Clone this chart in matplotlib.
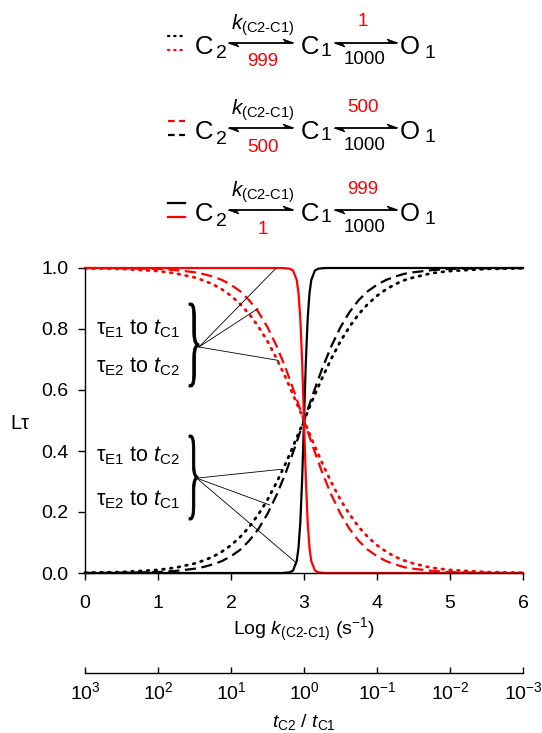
import matplotlib
matplotlib.use('Agg')
import matplotlib.pyplot as plt
from matplotlib.textpath import TextPath
from matplotlib.font_manager import FontProperties
from matplotlib.patches import PathPatch, Polygon
from matplotlib.transforms import Affine2D

plt.rcParams['font.family'] = ['Liberation Sans', 'DejaVu Sans']
plt.rcParams['mathtext.fontset'] = 'custom'
plt.rcParams['mathtext.rm'] = 'Liberation Sans'
plt.rcParams['mathtext.it'] = 'Liberation Sans:italic'
plt.rcParams['mathtext.bf'] = 'Liberation Sans:bold'

RED = '#ff0000'

# Log k(C2-C1) grid for the dotted / dashed curves
log_k = [0, 0.5, 1, 1.25, 1.5, 1.625, 1.75, 1.875, 2, 2.125, 2.25, 2.375, 2.5,
         2.625, 2.75, 2.875, 3, 3.125, 3.25, 3.375, 3.5, 3.625, 3.75, 3.875,
         4, 4.125, 4.25, 4.375, 4.5, 4.75, 5, 5.5, 6]
black_dotted = [0.001, 0.003, 0.010, 0.018, 0.031, 0.041, 0.053, 0.070, 0.091,
                0.118, 0.151, 0.192, 0.240, 0.297, 0.360, 0.429, 0.500, 0.572,
                0.640, 0.703, 0.760, 0.808, 0.849, 0.882, 0.909, 0.930, 0.947,
                0.960, 0.969, 0.983, 0.990, 0.997, 0.999]
red_dotted = [0.999, 0.997, 0.990, 0.982, 0.969, 0.959, 0.947, 0.930, 0.909,
              0.882, 0.849, 0.808, 0.760, 0.703, 0.640, 0.571, 0.500, 0.428,
              0.360, 0.297, 0.240, 0.192, 0.151, 0.118, 0.091, 0.070, 0.053,
              0.041, 0.031, 0.017, 0.010, 0.003, 0.001]
black_dashed = [0.000, 0.001, 0.003, 0.007, 0.014, 0.020, 0.028, 0.039, 0.055,
                0.076, 0.106, 0.144, 0.194, 0.256, 0.329, 0.412, 0.500, 0.588,
                0.671, 0.744, 0.806, 0.856, 0.895, 0.924, 0.945, 0.961, 0.972,
                0.981, 0.986, 0.993, 0.997, 0.999, 1.000]
red_dashed = [1.000, 0.999, 0.997, 0.993, 0.986, 0.980, 0.972, 0.961, 0.945,
              0.924, 0.894, 0.856, 0.806, 0.744, 0.671, 0.588, 0.500, 0.412,
              0.329, 0.256, 0.194, 0.144, 0.105, 0.076, 0.055, 0.039, 0.028,
              0.019, 0.014, 0.007, 0.003, 0.001, 0.000]

# finer grid for the steep solid curves
log_k_solid = [0, 1, 2, 2.5, 2.7, 2.8, 2.85, 2.9, 2.925, 2.95, 2.975, 3.0,
               3.025, 3.05, 3.075, 3.1, 3.15, 3.2, 3.3, 3.5, 4, 5, 6]
black_solid = [0.000, 0.000, 0.000, 0.000, 0.000, 0.002, 0.008, 0.039, 0.083,
               0.168, 0.310, 0.500, 0.690, 0.832, 0.917, 0.961, 0.992, 0.998,
               1.000, 1.000, 1.000, 1.000, 1.000]
red_solid = [1.000, 1.000, 1.000, 1.000, 1.000, 0.998, 0.992, 0.961, 0.917,
             0.832, 0.690, 0.500, 0.310, 0.168, 0.083, 0.039, 0.008, 0.002,
             0.000, 0.000, 0.000, 0.000, 0.000]

x_ticks = [0, 1, 2, 3, 4, 5, 6]
y_ticks = [0.0, 0.2, 0.4, 0.6, 0.8, 1.0]
ratio_labels = ['$10^{3}$', '$10^{2}$', '$10^{1}$', '$10^{0}$',
                '$10^{-1}$', '$10^{-2}$', '$10^{-3}$']

# scheme rows: (style, upper colour, lower colour, k back, k forward to O1)
scheme_rows = [
    (':', 'black', RED, '999', '1'),
    ('--', RED, 'black', '500', '500'),
    ('-', 'black', RED, '1', '999'),
]

# brace pointers (data coords): brace tip -> points on curves
upper_tip = (1.56, 0.741)
upper_targets = [(2.62, 1.0), (2.37, 0.867), (2.65, 0.697)]
lower_tip = (1.53, 0.311)
lower_targets = [(2.69, 0.340), (2.53, 0.223), (2.90, 0.032)]

W, H = 542, 733
fig = plt.figure(figsize=(W / 100, H / 100), dpi=100)

# ---- main axes
ax = fig.add_axes([85 / W, (H - 573) / H, 438 / W, 305 / H])
ax.set_xlim(0, 6)
ax.set_ylim(0, 1.0)
lw = 1.6
dot_style = (0, (0.6, 2.2))
dash_style = (0, (5, 2.5))
ax.plot(log_k, red_dotted, color=RED, lw=2.0, ls=dot_style, dash_capstyle='round', clip_on=False)
ax.plot(log_k, red_dashed, color=RED, lw=lw, ls=dash_style, clip_on=False)
ax.plot(log_k, black_dotted, color='black', lw=2.0, ls=dot_style, dash_capstyle='round', clip_on=False)
ax.plot(log_k, black_dashed, color='black', lw=lw, ls=dash_style, clip_on=False)
ax.plot(log_k_solid, black_solid, color='black', lw=lw, clip_on=False)
ax.plot(log_k_solid, red_solid, color=RED, lw=lw, clip_on=False)

for tip, targets in ((upper_tip, upper_targets), (lower_tip, lower_targets)):
    for tx, ty in targets:
        ax.plot([tip[0], tx], [tip[1], ty], color='black', lw=0.6, clip_on=False)

for s in ('top', 'right'):
    ax.spines[s].set_visible(False)
for s in ('left', 'bottom'):
    ax.spines[s].set_linewidth(1.0)
ax.set_xticks(x_ticks)
ax.set_yticks(y_ticks)
ax.set_yticklabels([f'{v:.1f}' for v in y_ticks])
ax.tick_params(axis='both', direction='out', length=5, width=1.0, labelsize=14)
ax.tick_params(axis='x', pad=11)
ax.tick_params(axis='y', pad=7)
ax.set_xlabel(r'Log $k_{\rm (C2\text{-}C1)}$ (s$^{-1}$)', fontsize=14, labelpad=3)
ax.set_ylabel('Lτ', fontsize=14.5, rotation=0, ha='center', va='center')
ax.yaxis.set_label_coords(-0.148, 0.49)

# ---- secondary ratio axis
ax2 = fig.add_axes([85 / W, (H - 673) / H, 438 / W, 0.0001])
ax2.set_xlim(0, 6)
ax2.set_yticks([])
for s in ('top', 'right', 'left'):
    ax2.spines[s].set_visible(False)
ax2.spines['bottom'].set_linewidth(1.0)
ax2.patch.set_visible(False)
ax2.set_xticks(x_ticks)
ax2.set_xticklabels(ratio_labels)
ax2.tick_params(axis='x', direction='in', length=4, width=1.0, labelsize=14, pad=6)

# ---- overlay in pixel coordinates
ov = fig.add_axes([0, 0, 1, 1])
ov.set_xlim(0, W)
ov.set_ylim(H, 0)
ov.set_axis_off()

ov.text(304, 722, r'$t_{\rm C2}$ / $t_{\rm C1}$', fontsize=14, ha='center', va='center')

# annotation labels
for y, lab in ((329, r'τ$_{\rm E1}$ to $t_{\rm C1}$'), (367, r'τ$_{\rm E2}$ to $t_{\rm C2}$'),
               (456, r'τ$_{\rm E1}$ to $t_{\rm C2}$'), (500, r'τ$_{\rm E2}$ to $t_{\rm C1}$')):
    ov.text(96, y, lab, fontsize=15.5, ha='left', va='center')


def brace(x0, y0, w, h):
    tp = TextPath((0, 0), '}', size=100, prop=FontProperties(family='Liberation Serif'))
    ext = tp.get_extents()
    tr = (Affine2D().translate(-ext.x0, -ext.y0)
          .scale(w / ext.width, -h / ext.height).translate(x0, y0 + h))
    ov.add_patch(PathPatch(tr.transform_path(tp), fc='black', ec='black', lw=0.6))


brace(189, 303, 10, 84)
brace(189, 435, 9, 85)


def harpoon(x1, x2, y):
    ov.plot([x1 + 2, x2 - 2], [y, y], color='black', lw=1.3)
    # forward half head (right, barb up) and backward half head (left, barb down)
    ov.add_patch(Polygon([(x2, y), (x2 - 11, y - 4), (x2 - 8, y)], closed=True,
                         fc='black', ec='black', lw=0.5))
    ov.add_patch(Polygon([(x1, y), (x1 + 11, y + 4), (x1 + 8, y)], closed=True,
                         fc='black', ec='black', lw=0.5))


row_offsets = [0, 85, 167]
for (style, c_up, c_low, k_back, k_fwd), dy in zip(scheme_rows, row_offsets):
    ya = 43 + dy
    # line-style keys
    seg_ls = {':': (0, (0.6, 2.2)), '--': (0, (3, 2)), '-': '-'}[style]
    ov.plot([168, 185], [ya - 7, ya - 7], color=c_up, lw=1.6, ls=seg_ls,
            dash_capstyle='round' if style == ':' else 'butt')
    ov.plot([168, 185], [ya + 7, ya + 7], color=c_low, lw=1.6, ls=seg_ls,
            dash_capstyle='round' if style == ':' else 'butt')
    # species
    ov.text(195, ya + 4, 'C', fontsize=18.5, ha='left', va='center')
    ov.text(216, ya + 11, '2', fontsize=14, ha='left', va='center')
    ov.text(301, ya + 4, 'C', fontsize=18.5, ha='left', va='center')
    ov.text(321, ya + 8, '1', fontsize=14, ha='left', va='center')
    ov.text(400, ya + 4, 'O', fontsize=18.5, ha='left', va='center')
    ov.text(425, ya + 10, '1', fontsize=14, ha='left', va='center')
    # arrows
    harpoon(228, 294, ya)
    harpoon(334, 398, ya)
    # rate labels
    ov.text(263, ya - 18, r'$k_{\rm (C2\text{-}C1)}$', fontsize=15, ha='center', va='center')
    ov.text(263, ya + 19, k_back, fontsize=13.5, color=RED, ha='center', va='center')
    ov.text(363, ya - 21, k_fwd, fontsize=13.5, color=RED, ha='center', va='center')
    ov.text(365, ya + 17, '1000', fontsize=13.5, ha='center', va='center')

fig.savefig('out.png', dpi=100)
